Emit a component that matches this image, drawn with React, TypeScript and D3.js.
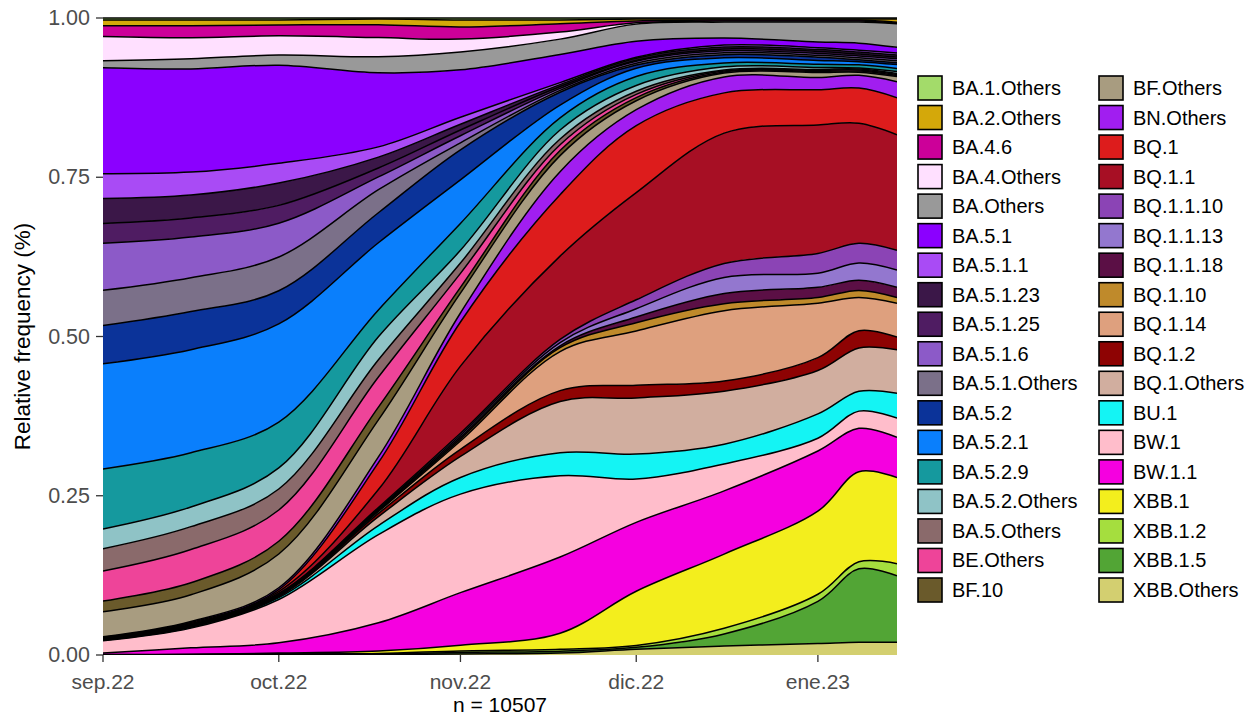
import React from "react";
import * as d3 from "d3";

// Sampling dates (smoothed relative frequencies, % of sequences)
const dates = [
  "2022-09-01", "2022-09-16", "2022-10-01", "2022-10-18", "2022-11-01", "2022-11-18",
  "2022-12-01", "2022-12-16", "2023-01-01", "2023-01-08", "2023-01-14T12:00",
];

const lineages = [
  "BA.1.Others", "BA.2.Others", "BA.4.6", "BA.4.Others", "BA.Others", "BA.5.1",
  "BA.5.1.1", "BA.5.1.23", "BA.5.1.25", "BA.5.1.6", "BA.5.1.Others", "BA.5.2",
  "BA.5.2.1", "BA.5.2.9", "BA.5.2.Others", "BA.5.Others", "BE.Others", "BF.10",
  "BF.Others", "BN.Others", "BQ.1", "BQ.1.1", "BQ.1.1.10", "BQ.1.1.13",
  "BQ.1.1.18", "BQ.1.10", "BQ.1.14", "BQ.1.2", "BQ.1.Others", "BU.1",
  "BW.1", "BW.1.1", "XBB.1", "XBB.1.2", "XBB.1.5", "XBB.Others",
];

const colors = [
  "#A3DB6A", "#D4A80A", "#CC0099", "#FFE0FF", "#999999", "#8B00FF",
  "#A94BF5", "#3B1748", "#4F1C62", "#8C5AC8", "#7B7089", "#0B3399",
  "#0A7FFC", "#15999E", "#8FC3C6", "#8A6A6B", "#EE4499", "#6A5A2B",
  "#A89C80", "#A11EF0", "#DD1C1C", "#A70F24", "#8B44B5", "#9377CF",
  "#5B0F45", "#BF8A2B", "#DEA07E", "#8E0303", "#D1AE9F", "#14F4F4",
  "#FFBDCB", "#F500E0", "#F3EE1D", "#A5DE3E", "#52A535", "#D3CF70",
];

// values (%) at each date
const BA_1_Others = [0.3, 0.3, 0.3, 0.16, 0.3, 0.3, 0.16, 0.16, 0.16, 0.16, 0.16];
const BA_2_Others = [0.9, 0.9, 0.8, 0.9, 1.1, 0.6, 0.3, 0.16, 0.16, 0.16, 0.5];
const BA_4_6 = [1.7, 1.9, 1.7, 2.0, 1.9, 1.3, 0.3, 0.16, 0.16, 0.16, 0.16];
const BA_4_Others = [3.8, 3.3, 3.0, 3.0, 2.0, 1.1, 0.2, 0.16, 0.16, 0.16, 0.08];
const BA_Others = [1.1, 1.6, 1.6, 2.5, 2.8, 2.4, 2.7, 2.5, 3.1, 3.3, 3.7];
const BA_5_1 = [16.6, 16.2, 15.4, 11.6, 7.4, 4.4, 2.5, 1.1, 0.9, 1.1, 0.9];
const BA_5_1_1 = [3.9, 3.6, 3.1, 1.6, 1.1, 0.3, 0.16, 0.3, 0.3, 0.3, 0.3];
const BA_5_1_23 = [3.9, 3.6, 3.5, 1.7, 0.9, 0.3, 0.3, 0.3, 0.3, 0.3, 0.3];
const BA_5_1_25 = [3.1, 3.0, 2.8, 1.4, 0.9, 0.3, 0.16, 0.3, 0.3, 0.3, 0.3];
const BA_5_1_6 = [7.4, 6.4, 5.3, 2.0, 1.1, 0.3, 0.3, 0.3, 0.3, 0.3, 0.3];
const BA_5_1_Others = [5.5, 5.3, 5.3, 3.6, 1.1, 0.3, 0.3, 0.3, 0.3, 0.3, 0.3];
const BA_5_2 = [6.0, 6.0, 5.2, 4.7, 4.7, 2.0, 0.5, 0.5, 0.5, 0.3, 0.3];
const BA_5_2_1 = [16.5, 16.2, 15.4, 10.5, 6.8, 2.0, 1.3, 0.8, 0.6, 0.5, 0.6];
const BA_5_2_9 = [9.4, 8.5, 7.2, 4.2, 4.2, 1.9, 1.4, 0.6, 0.5, 0.5, 0.5];
const BA_5_2_Others = [3.1, 3.1, 3.3, 3.6, 2.0, 1.4, 0.9, 0.5, 0.3, 0.16, 0.3];
const BA_5_Others = [3.5, 3.6, 3.3, 2.7, 1.6, 0.9, 0.5, 0.16, 0.16, 0.16, 0.16];
const BE_Others = [4.7, 5.2, 4.9, 4.7, 2.2, 0.9, 0.5, 0.16, 0.16, 0.16, 0.16];
const BF_10 = [1.7, 1.9, 2.0, 2.0, 0.9, 0.8, 0.5, 0.16, 0.16, 0.16, 0.16];
const BF_Others = [3.9, 4.2, 5.3, 5.8, 3.1, 2.5, 1.4, 0.6, 0.8, 0.5, 0.8];
const BN_Others = [0.08, 0.16, 0.3, 0.9, 1.4, 3.6, 2.5, 2.5, 1.9, 2.0, 2.5];
const BQ_1 = [0.08, 0.16, 0.3, 4.2, 6.9, 9.6, 10.5, 6.3, 5.5, 5.5, 5.8];
const BQ_1_1 = [0.08, 0.16, 0.3, 2.8, 10.5, 13.0, 16.8, 20.4, 20.1, 18.8, 18.1];
const BQ_1_1_10 = [0.03, 0.05, 0.08, 0.16, 0.3, 0.5, 1.4, 2.2, 3.1, 3.1, 3.1];
const BQ_1_1_13 = [0.03, 0.05, 0.08, 0.16, 0.3, 0.5, 1.3, 2.5, 2.2, 2.7, 2.7];
const BQ_1_1_18 = [0.03, 0.05, 0.08, 0.16, 0.3, 0.3, 0.9, 1.6, 1.6, 1.6, 1.6];
const BQ_1_10 = [0.03, 0.05, 0.08, 0.16, 0.3, 0.6, 1.3, 1.1, 0.9, 1.1, 0.9];
const BQ_1_14 = [0.05, 0.06, 0.08, 0.3, 1.3, 6.1, 8.5, 11.0, 8.5, 5.2, 5.3];
const BQ_1_2 = [0.06, 0.06, 0.08, 0.5, 1.1, 1.7, 2.0, 1.6, 2.0, 2.7, 2.0];
const BQ_1_Others = [0.08, 0.11, 0.16, 1.4, 3.3, 8.0, 8.8, 8.3, 6.8, 6.8, 6.8];
const BU_1 = [0.08, 0.13, 0.3, 1.4, 2.6, 3.6, 3.9, 3.1, 3.8, 3.1, 3.9];
const BW_1 = [1.9, 3.1, 6.8, 13.8, 15.4, 12.7, 6.8, 4.2, 2.0, 2.7, 3.0];
const BW_1_1 = [0.24, 1.0, 1.6, 4.4, 8.2, 11.9, 10.8, 9.9, 9.4, 6.8, 6.3];
const XBB_1 = [0.03, 0.05, 0.12, 0.4, 0.9, 2.5, 8.5, 11.6, 13.0, 14.1, 13.5];
const XBB_1_2 = [0.02, 0.03, 0.08, 0.08, 0.24, 0.3, 0.3, 0.9, 1.1, 1.1, 1.9];
const XBB_1_5 = [0.02, 0.02, 0.05, 0.08, 0.24, 0.3, 0.3, 1.9, 6.6, 11.5, 10.4];
const XBB_Others = [0.02, 0.02, 0.06, 0.08, 0.16, 0.3, 0.9, 1.4, 1.8, 2.0, 2.0];

const seriesValues = [
  BA_1_Others, BA_2_Others, BA_4_6, BA_4_Others, BA_Others, BA_5_1,
  BA_5_1_1, BA_5_1_23, BA_5_1_25, BA_5_1_6, BA_5_1_Others, BA_5_2,
  BA_5_2_1, BA_5_2_9, BA_5_2_Others, BA_5_Others, BE_Others, BF_10,
  BF_Others, BN_Others, BQ_1, BQ_1_1, BQ_1_1_10, BQ_1_1_13,
  BQ_1_1_18, BQ_1_10, BQ_1_14, BQ_1_2, BQ_1_Others, BU_1,
  BW_1, BW_1_1, XBB_1, XBB_1_2, XBB_1_5, XBB_Others,
];

const xTickDates = ["2022-09-01", "2022-10-01", "2022-11-01", "2022-12-01", "2023-01-01"];
const xTickLabels = ["sep.22", "oct.22", "nov.22", "dic.22", "ene.23"];
const yTicks = [0, 0.25, 0.5, 0.75, 1];
const yTickLabels = ["0.00", "0.25", "0.50", "0.75", "1.00"];

const FONT = "'Liberation Sans', Arial, Helvetica, sans-serif";

export default function App() {
  const W = 1255, H = 717;
  const left = 103, right = 897, top = 18, bottom = 655;
  const parse = (s: string) => new Date(s);

  const x = d3.scaleTime()
    .domain([parse(dates[0]), parse(dates[dates.length - 1])])
    .range([left, right]);
  const y = d3.scaleLinear().domain([0, 1]).range([bottom, top]);

  const table = dates.map((d, i) => {
    const row: any = { date: parse(d) };
    lineages.forEach((n, j) => { row[n] = seriesValues[j][i]; });
    return row;
  });

  const stackKeys = lineages.slice().reverse();
  const layers = d3.stack<any>().keys(stackKeys).offset(d3.stackOffsetExpand)(table);

  const curve = d3.curveCatmullRom.alpha(0.5);
  const area = d3.area<any>()
    .x((d) => x(d.data.date))
    .y0((d) => y(d[0]))
    .y1((d) => y(d[1]))
    .curve(curve);
  const upper = d3.line<any>()
    .x((d) => x(d.data.date))
    .y((d) => y(d[1]))
    .curve(curve);

  const colorOf = (k: string) => colors[lineages.indexOf(k)];

  const rowY = (i: number) => 88 + i * 29.53;

  return (
    <svg width={W} height={H} style={{ position: "absolute", left: 0, top: 0, background: "#fff" }}
      fontFamily={FONT}>
      <rect x={0} y={0} width={W} height={H} fill="#fff" />
      <defs>
        <clipPath id="plotClip">
          <rect x={left} y={top - 2} width={right - left} height={bottom - top + 2} />
        </clipPath>
      </defs>
      <g clipPath="url(#plotClip)">
        {layers.map((L) => (
          <path key={"a" + L.key} d={area(L) || ""} fill={colorOf(L.key)} stroke="none" />
        ))}
        {layers.map((L) => (
          <path key={"l" + L.key} d={upper(L) || ""} fill="none" stroke="#000" strokeWidth={1.5} />
        ))}
      </g>
      {/* y axis */}
      <g>
        {yTicks.map((t, i) => (
          <g key={"yt" + i}>
            <line x1={left - 7} x2={left} y1={y(t)} y2={y(t)} stroke="#333" strokeWidth={1.3} />
            <text x={left - 13} y={y(t)} textAnchor="end" dominantBaseline="central"
              fontSize={21.5} fill="#4D4D4D">{yTickLabels[i]}</text>
          </g>
        ))}
      </g>
      {/* x axis */}
      <g>
        {xTickDates.map((t, i) => (
          <g key={"xt" + i}>
            <line x1={x(parse(t))} x2={x(parse(t))} y1={bottom} y2={bottom + 7} stroke="#333" strokeWidth={1.3} />
            <text x={x(parse(t))} y={bottom + 26} textAnchor="middle" dominantBaseline="central"
              fontSize={21} fill="#4D4D4D">{xTickLabels[i]}</text>
          </g>
        ))}
      </g>
      <text x={(left + right) / 2} y={704} textAnchor="middle" dominantBaseline="central"
        fontSize={21} fill="#000">n = 10507</text>
      <text transform={`translate(22,${(top + bottom) / 2}) rotate(-90)`} textAnchor="middle"
        dominantBaseline="central" fontSize={22.5} fill="#000">Relative frequency (%)</text>
      {/* legend */}
      <g>
        {lineages.map((n, i) => {
          const col = i < 18 ? 0 : 1;
          const r = i % 18;
          const kx = col === 0 ? 918 : 1099;
          const tx = col === 0 ? 952 : 1133;
          const cy = rowY(r);
          return (
            <g key={"lg" + n}>
              <rect x={kx} y={cy - 12} width={24} height={24} fill={colors[i]} stroke="#000" strokeWidth={1.6} />
              <text x={tx} y={cy} dominantBaseline="central" fontSize={20} fill="#000">{n}</text>
            </g>
          );
        })}
      </g>
    </svg>
  );
}
